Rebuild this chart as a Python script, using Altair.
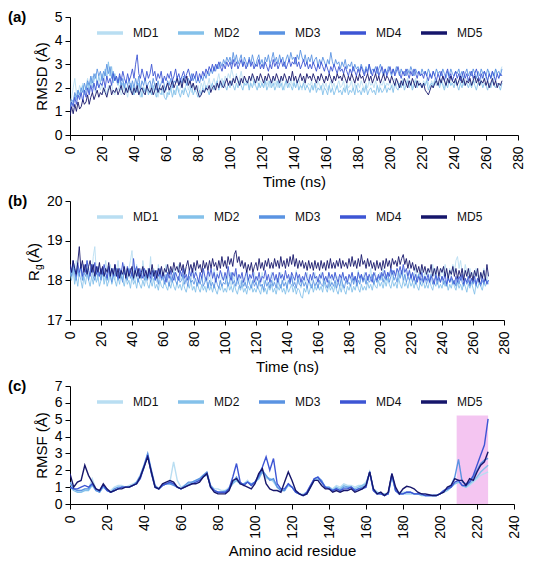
import altair as alt
import pandas as pd

SERIES = ["MD1", "MD2", "MD3", "MD4", "MD5"]
COLORS = ["#b9def2", "#84c1ea", "#5a93e2", "#3d55d4", "#16166b"]
FONT = "Liberation Sans"

TIME = list(range(0, 271))          # ns, one frame per ns
RESIDUE = list(range(0, 227, 2))    # residue index, every 2nd residue
TIME_TICKS = list(range(0, 281, 20))
RES_TICKS = list(range(0, 241, 20))

# ---------------- RMSD (Å), t = 0..270 ns ----------------
rmsd_md1 = [1.3, 1.6, 2.0, 2.4, 1.8, 1.7, 2.1, 1.9, 2.2, 1.8,
            2.1, 2.4, 1.9, 2.2, 2.5, 2.0, 1.8, 2.3, 2.1, 1.9,
            2.2, 1.8, 2.0, 1.7, 2.1, 1.9, 2.2, 1.8, 1.7, 2.0,
            1.9, 2.1, 1.7, 1.8, 2.2, 1.9, 1.6, 2.0, 1.8, 2.1,
            1.7, 2.0, 2.2, 1.8, 1.6, 1.9, 2.1, 1.7, 2.0, 1.8,
            2.1, 1.7, 1.9, 2.2, 1.8, 1.6, 2.0, 1.9, 1.7, 2.1,
            1.8, 1.6, 2.0, 1.9, 2.2, 1.7, 1.9, 2.1, 1.8, 2.0,
            2.2, 1.8, 2.0, 2.3, 1.9, 2.1, 1.8, 2.2, 2.0, 1.9,
            2.1, 1.8, 2.2, 2.0, 2.3, 1.9, 2.1, 2.4, 2.0, 2.2,
            2.4, 2.1, 2.3, 2.6, 2.2, 2.4, 2.1, 2.5, 2.3, 2.6,
            2.4, 2.8, 2.5, 2.3, 2.6, 2.2, 2.4, 2.7, 2.3, 2.1,
            2.4, 2.2, 2.0, 2.3, 2.5, 2.1, 2.2, 2.4, 2.0, 2.3,
            2.2, 2.0, 2.4, 2.1, 2.3, 2.0, 2.2, 2.4, 2.1, 2.3,
            2.0, 2.2, 2.4, 2.1, 1.9, 2.3, 2.2, 2.0, 2.4, 2.1,
            2.3, 2.0, 2.2, 2.4, 2.1, 1.9, 2.3, 2.2, 2.0, 2.2,
            2.1, 2.3, 1.9, 2.2, 2.0, 2.3, 2.1, 1.9, 2.2, 2.0,
            2.2, 1.9, 2.1, 2.3, 2.0, 2.2, 1.9, 2.1, 2.3, 2.0,
            2.1, 2.3, 1.9, 2.2, 2.0, 2.1, 2.3, 1.9, 2.2, 2.0,
            2.2, 2.0, 2.3, 2.1, 1.9, 2.2, 2.0, 2.3, 2.1, 2.2,
            2.0, 2.3, 2.1, 1.9, 2.2, 2.1, 2.3, 2.0, 2.2, 2.1,
            2.3, 2.0, 2.2, 2.4, 2.1, 2.3, 2.0, 2.2, 2.4, 2.1,
            2.2, 2.4, 2.1, 2.3, 2.0, 2.2, 2.4, 2.1, 2.3, 2.2,
            2.0, 2.3, 2.1, 2.4, 2.2, 2.0, 2.3, 2.1, 2.4, 2.2,
            2.3, 2.1, 2.4, 2.2, 2.0, 2.3, 2.2, 2.4, 2.1, 2.3,
            2.2, 2.4, 2.1, 2.3, 2.2, 2.5, 2.1, 2.3, 2.4, 2.2,
            2.3, 2.1, 2.4, 2.2, 2.5, 2.3, 2.1, 2.4, 2.6, 2.3,
            2.5, 2.2, 2.7, 2.4, 2.6, 2.3, 2.8, 2.5, 2.4, 2.7,
            2.9]
rmsd_md2 = [1.1, 1.4, 1.3, 1.7, 1.5, 1.9, 1.6, 1.8, 2.1, 1.7,
            1.9, 2.2, 1.8, 2.4, 2.0, 2.3, 2.6, 2.1, 2.5, 2.2,
            2.6, 2.3, 2.8, 2.4, 3.1, 2.5, 2.9, 2.2, 2.6, 2.3,
            2.1, 2.4, 1.9, 2.2, 2.0, 1.8, 2.1, 1.9, 2.2, 1.8,
            1.7, 2.0, 1.8, 2.2, 1.9, 1.6, 2.0, 1.8, 2.1, 1.7,
            1.9, 1.7, 2.1, 1.8, 1.6, 2.0, 1.8, 1.7, 2.0, 1.6,
            1.5, 1.8, 1.7, 2.0, 1.6, 1.9, 1.7, 2.1, 1.8, 1.6,
            1.9, 1.7, 2.0, 1.8, 1.6, 1.9, 2.1, 1.7, 1.9, 1.8,
            1.6, 1.9, 1.7, 2.0, 1.8, 2.1, 1.9, 1.7, 2.0, 2.2,
            1.9, 2.1, 2.3, 1.9, 2.2, 2.0, 2.3, 2.1, 1.9, 2.2,
            2.0, 2.3, 2.1, 1.9, 2.2, 2.0, 2.3, 2.1, 1.9, 2.2,
            2.1, 2.3, 1.9, 2.2, 2.0, 2.3, 2.1, 1.9, 2.2, 2.0,
            2.2, 2.0, 2.3, 1.9, 2.1, 2.3, 2.0, 2.2, 1.9, 2.1,
            2.3, 2.0, 2.2, 1.9, 2.1, 2.3, 2.0, 2.2, 2.1, 1.9,
            2.2, 2.0, 2.3, 1.9, 2.1, 2.0, 2.2, 1.9, 2.1, 2.0,
            1.8, 2.1, 1.9, 2.2, 1.8, 2.0, 1.9, 2.1, 1.7, 2.0,
            1.9, 1.7, 2.1, 1.8, 2.0, 1.7, 1.9, 2.1, 1.8, 1.9,
            1.7, 2.0, 1.8, 2.1, 1.7, 1.9, 1.8, 2.0, 1.7, 2.1,
            1.8, 1.9, 1.7, 2.0, 1.8, 2.1, 1.7, 1.9, 2.0, 1.8,
            1.9, 1.7, 2.1, 1.8, 2.0, 1.8, 1.9, 2.1, 1.8, 2.0,
            1.9, 2.1, 1.8, 2.2, 2.0, 1.9, 2.2, 2.0, 2.3, 1.9,
            2.1, 2.3, 2.0, 2.2, 1.9, 2.1, 2.3, 2.0, 2.2, 2.1,
            2.0, 2.2, 2.1, 2.3, 1.9, 2.1, 2.2, 2.0, 2.3, 2.1,
            2.2, 2.0, 2.3, 2.1, 1.9, 2.2, 2.0, 2.3, 2.1, 2.2,
            2.0, 2.3, 2.1, 1.9, 2.2, 2.0, 2.3, 2.1, 2.2, 2.0,
            2.2, 2.0, 2.3, 2.1, 1.9, 2.2, 2.1, 2.3, 2.0, 2.2,
            2.1, 1.9, 2.2, 2.0, 2.3, 2.1, 2.0, 2.2, 2.1, 1.9,
            2.2]
rmsd_md3 = [1.2, 1.5, 1.4, 1.8, 1.6, 1.9, 1.7, 2.0, 1.8, 2.2,
            1.9, 2.3, 2.1, 2.5, 2.2, 2.6, 2.4, 2.8, 2.5, 2.7,
            2.3, 2.7, 2.5, 3.0, 2.6, 2.9, 2.4, 2.7, 2.3, 2.5,
            2.2, 2.5, 2.1, 2.4, 2.0, 2.3, 2.1, 2.4, 1.9, 2.3,
            2.0, 2.4, 2.1, 2.5, 1.9, 2.3, 2.1, 2.4, 2.0, 2.2,
            2.3, 2.0, 2.4, 2.1, 1.9, 2.3, 2.0, 2.2, 2.4, 2.1,
            1.9, 2.3, 2.1, 2.4, 2.0, 2.3, 2.2, 2.5, 2.1, 2.4,
            2.2, 2.5, 2.3, 2.1, 2.4, 2.2, 2.6, 2.3, 2.5, 2.2,
            2.4, 2.2, 2.5, 2.3, 2.6, 2.4, 2.7, 2.5, 2.8, 2.6,
            2.9, 2.7, 3.0, 2.8, 3.1, 2.9, 3.2, 3.0, 3.3, 3.1,
            3.3, 3.0, 3.5, 3.1, 3.4, 3.0, 3.2, 3.4, 2.9, 3.3,
            3.1, 2.9, 3.3, 3.0, 3.4, 3.1, 2.9, 3.2, 3.4, 3.0,
            3.2, 2.9, 3.3, 3.1, 3.4, 3.0, 3.2, 3.5, 3.1, 3.3,
            3.0, 3.4, 3.1, 3.3, 2.9, 3.2, 3.4, 3.1, 3.5, 3.2,
            3.3, 3.0, 3.4, 3.2, 3.6, 3.3, 3.1, 3.4, 3.0, 3.3,
            3.1, 3.4, 3.0, 3.2, 3.3, 2.9, 3.2, 3.0, 3.3, 3.1,
            2.9, 3.2, 3.0, 3.5, 3.1, 2.9, 3.2, 3.0, 3.1, 2.8,
            3.1, 2.9, 3.2, 2.8, 3.0, 2.9, 3.1, 2.7, 3.0, 2.8,
            2.9, 2.7, 3.0, 2.8, 2.6, 2.9, 2.7, 3.0, 2.6, 2.8,
            2.7, 2.9, 2.6, 2.8, 3.0, 2.7, 2.5, 2.8, 2.6, 2.9,
            2.7, 2.5, 2.8, 2.6, 2.9, 2.7, 2.5, 2.8, 2.6, 2.7,
            2.5, 2.8, 2.6, 2.9, 2.7, 2.5, 2.8, 2.6, 2.7, 2.5,
            2.8, 2.6, 2.7, 2.5, 2.8, 2.6, 2.4, 2.7, 2.5, 2.8,
            2.6, 2.7, 2.5, 2.8, 2.6, 2.4, 2.7, 2.5, 2.8, 2.6,
            2.5, 2.7, 2.6, 2.8, 2.5, 2.7, 2.4, 2.6, 2.8, 2.5,
            2.7, 2.5, 2.8, 2.6, 2.4, 2.7, 2.5, 2.8, 2.6, 2.7,
            2.5, 2.8, 2.6, 2.4, 2.7, 2.5, 2.8, 2.6, 2.7, 2.5,
            2.8]
rmsd_md4 = [1.0, 1.4, 1.2, 1.6, 1.3, 1.7, 1.5, 1.8, 1.4, 1.9,
            1.6, 2.0, 1.7, 2.1, 1.8, 2.2, 1.9, 2.3, 2.0, 2.2,
            2.1, 2.4, 2.0, 2.5, 2.2, 2.4, 2.1, 2.6, 2.3, 2.5,
            2.2, 2.6, 2.3, 2.7, 2.4, 2.2, 2.6, 2.3, 2.5, 2.8,
            2.4, 3.0, 3.4, 2.6, 2.4, 2.8, 2.5, 2.3, 2.7, 2.4,
            2.6, 3.0, 2.5, 2.7, 2.3, 2.6, 2.4, 2.7, 2.2, 2.5,
            2.3, 2.6, 2.4, 2.7, 2.3, 2.5, 2.8, 2.4, 2.6, 2.3,
            2.5, 2.7, 2.4, 2.6, 2.8, 2.5, 2.3, 2.6, 2.4, 2.7,
            2.3, 2.6, 2.4, 2.7, 2.5, 2.8, 2.6, 2.9, 2.7, 3.0,
            2.7, 3.0, 2.8, 3.1, 2.9, 2.7, 3.0, 2.8, 3.1, 2.9,
            3.1, 2.8, 3.2, 2.9, 3.1, 2.8, 3.0, 3.2, 2.9, 3.1,
            2.8, 3.0, 3.2, 2.9, 3.1, 2.8, 3.0, 2.9, 3.2, 2.8,
            3.0, 2.8, 3.1, 2.9, 2.7, 3.0, 2.8, 3.2, 2.9, 3.1,
            2.8, 3.0, 3.2, 2.9, 3.1, 2.8, 3.0, 3.2, 2.9, 3.1,
            3.0, 3.3, 2.9, 3.1, 2.8, 3.0, 3.2, 2.9, 3.1, 2.8,
            3.0, 2.8, 3.1, 2.9, 2.7, 3.0, 2.8, 3.1, 2.9, 2.7,
            3.0, 2.8, 2.6, 2.9, 2.7, 3.0, 2.8, 2.6, 2.9, 2.7,
            2.8, 2.6, 2.9, 2.7, 2.5, 2.8, 2.6, 2.9, 2.7, 2.5,
            2.8, 2.6, 2.9, 2.7, 2.5, 2.8, 2.6, 3.0, 2.7, 2.5,
            2.8, 2.6, 2.9, 2.5, 2.7, 2.9, 2.6, 2.8, 2.5, 2.7,
            2.9, 2.6, 2.8, 2.5, 2.7, 2.9, 2.6, 2.4, 2.7, 2.5,
            2.8, 2.6, 2.4, 2.7, 2.5, 2.8, 2.6, 2.4, 2.7, 2.5,
            2.6, 2.4, 2.7, 2.5, 2.3, 2.6, 2.4, 2.7, 2.5, 2.3,
            2.6, 2.4, 2.7, 2.5, 2.3, 2.6, 2.8, 2.4, 2.6, 2.3,
            2.5, 2.7, 2.4, 2.6, 2.3, 2.5, 2.7, 2.4, 2.6, 2.3,
            2.5, 2.7, 2.4, 2.6, 2.8, 2.5, 2.3, 2.6, 2.4, 2.7,
            2.5, 2.3, 2.6, 2.4, 2.7, 2.5, 2.3, 2.6, 2.4, 2.6,
            2.5]
rmsd_md5 = [0.8, 1.2, 0.9, 1.3, 1.0, 1.4, 1.1, 1.2, 1.5, 1.3,
            1.4, 1.7, 1.3, 1.6, 1.8, 1.5, 1.7, 1.9, 1.6, 1.8,
            1.7, 2.0, 1.8, 1.6, 1.9, 2.1, 1.7, 1.9, 1.8, 2.0,
            1.7, 1.9, 2.1, 1.8, 1.7, 2.0, 1.8, 2.1, 1.9, 1.7,
            2.0, 1.8, 2.1, 1.7, 1.9, 2.0, 1.8, 1.7, 2.1, 1.9,
            1.8, 2.0, 1.7, 1.9, 2.2, 1.8, 2.0, 1.9, 2.1, 1.8,
            2.0, 2.2, 1.9, 2.1, 2.3, 2.0, 2.2, 2.4, 2.1, 2.3,
            2.0, 2.4, 2.2, 2.5, 2.1, 2.3, 2.0, 2.2, 1.9, 2.1,
            1.8, 1.6, 1.7, 1.9, 1.8, 2.0, 1.9, 2.1, 1.8, 2.0,
            2.1, 1.9, 2.2, 2.0, 2.3, 2.1, 2.0, 2.2, 2.4, 2.1,
            2.3, 2.1, 2.4, 2.2, 2.5, 2.3, 2.1, 2.4, 2.2, 2.5,
            2.3, 2.2, 2.5, 2.3, 2.6, 2.4, 2.2, 2.5, 2.3, 2.6,
            2.4, 2.2, 2.5, 2.3, 2.6, 2.4, 2.2, 2.5, 2.3, 2.6,
            2.4, 2.2, 2.5, 2.3, 2.6, 2.4, 2.2, 2.5, 2.3, 2.7,
            2.3, 2.5, 2.2, 2.4, 2.6, 2.3, 2.5, 2.2, 2.6, 2.4,
            2.5, 2.3, 2.6, 2.4, 2.2, 2.5, 2.3, 2.6, 2.4, 2.2,
            2.5, 2.3, 2.6, 2.4, 2.2, 2.5, 2.3, 2.6, 2.4, 2.5,
            2.3, 2.6, 2.4, 2.2, 2.5, 2.3, 2.6, 2.4, 2.2, 2.5,
            2.3, 2.6, 2.4, 2.5, 2.2, 2.4, 2.6, 2.3, 2.5, 2.2,
            2.4, 2.6, 2.3, 2.5, 2.2, 2.4, 2.6, 2.3, 2.5, 2.4,
            2.2, 2.5, 2.3, 2.1, 2.4, 2.2, 2.0, 2.3, 2.1, 2.4,
            2.2, 2.0, 2.3, 2.1, 2.4, 2.2, 2.0, 2.3, 2.1, 2.2,
            2.0, 2.2, 1.9, 1.8, 1.7, 1.9, 2.1, 2.0, 2.2, 2.3,
            2.1, 2.4, 2.2, 2.5, 2.3, 2.1, 2.4, 2.2, 2.5, 2.3,
            2.2, 2.4, 2.1, 2.3, 2.5, 2.2, 2.4, 2.1, 2.3, 2.2,
            2.4, 2.1, 2.3, 2.5, 2.2, 2.4, 2.1, 2.3, 2.2, 2.4,
            2.1, 2.3, 2.0, 2.2, 2.4, 2.1, 2.3, 2.0, 2.2, 2.1,
            2.3]

# ---------------- Rg (Å), t = 0..270 ns ----------------
rg_md1 = [18.3, 18.1, 18.4, 18.0, 18.5, 18.2, 18.1, 18.4, 18.0, 18.3,
          18.2, 18.5, 18.0, 18.3, 18.1, 18.6, 18.85, 18.2, 18.0, 18.4,
          18.1, 18.3, 18.0, 18.5, 18.2, 17.95, 18.4, 18.1, 18.3, 18.0,
          18.2, 18.5, 18.1, 18.3, 18.0, 18.4, 18.2, 18.0, 18.3, 18.5,
          18.75, 18.2, 18.0, 18.4, 18.1, 18.3, 18.0, 18.5, 18.2, 18.0,
          18.3, 18.1, 18.6, 18.0, 18.3, 18.2, 17.95, 18.4, 18.1, 18.3,
          18.0, 18.2, 18.4, 18.0, 18.3, 18.1, 17.95, 18.3, 18.0, 18.2,
          18.4, 18.0, 18.2, 17.95, 18.3, 18.1, 18.0, 18.3, 17.95, 18.2,
          18.0, 18.3, 18.1, 17.9, 18.2, 18.0, 18.3, 17.95, 18.1, 18.0,
          18.2, 17.9, 18.1, 18.3, 17.95, 18.2, 18.0, 17.9, 18.2, 18.0,
          18.1, 17.9, 18.2, 18.0, 17.85, 18.1, 18.0, 18.2, 17.9, 18.1,
          17.9, 18.1, 18.0, 17.85, 18.2, 17.95, 18.1, 17.9, 18.0, 18.2,
          17.9, 18.1, 17.85, 18.0, 18.2, 17.9, 18.0, 18.1, 17.85, 18.0,
          18.2, 17.9, 18.0, 18.1, 17.85, 18.0, 18.2, 17.9, 18.1, 18.0,
          17.85, 18.1, 18.0, 18.2, 17.9, 18.0, 18.25, 17.9, 18.1, 17.8,
          18.0, 18.1, 17.9, 18.2, 18.0, 17.85, 18.1, 18.0, 18.2, 17.9,
          18.1, 17.9, 18.2, 18.0, 17.9, 18.1, 18.0, 18.2, 17.85, 18.1,
          18.0, 18.2, 17.9, 18.1, 18.0, 17.85, 18.2, 18.0, 18.1, 17.9,
          18.1, 18.0, 18.2, 17.9, 18.1, 18.0, 18.25, 17.95, 18.1, 18.0,
          18.2, 17.95, 18.1, 18.0, 18.3, 18.0, 18.1, 18.2, 17.95, 18.1,
          18.2, 18.0, 18.3, 18.1, 18.0, 18.2, 18.1, 18.3, 18.0, 18.2,
          18.1, 18.3, 18.0, 18.2, 18.1, 18.3, 18.0, 18.2, 18.1, 18.3,
          18.0, 18.2, 18.1, 18.3, 18.0, 18.2, 18.1, 18.3, 18.0, 18.2,
          18.1, 18.3, 18.0, 18.2, 18.4, 18.1, 18.3, 18.0, 18.2, 18.1,
          18.3, 18.1, 18.4, 18.2, 18.0, 18.3, 18.1, 18.4, 18.2, 18.5,
          18.6, 18.3, 18.5, 18.2, 18.1, 18.4, 18.2, 18.0, 18.3, 18.1,
          18.2, 18.0, 18.3, 18.1, 17.95, 18.2, 18.0, 18.3, 18.1, 18.0,
          18.2]
rg_md2 = [18.2, 18.0, 18.3, 17.9, 18.1, 17.85, 18.2, 18.0, 17.8, 18.1,
          17.9, 18.2, 18.0, 17.85, 18.1, 17.9, 18.2, 17.95, 18.1, 17.85,
          18.0, 18.2, 17.9, 18.1, 17.85, 18.0, 18.2, 17.9, 18.1, 18.0,
          17.85, 18.1, 17.9, 18.2, 18.0, 17.85, 18.1, 17.9, 18.0, 17.8,
          18.1, 17.9, 18.0, 17.8, 18.05, 17.9, 17.8, 18.0, 17.85, 18.1,
          17.9, 17.8, 18.0, 17.85, 18.05, 17.8, 17.9, 17.75, 18.0, 17.85,
          17.8, 18.0, 17.85, 17.75, 17.95, 17.8, 18.0, 17.85, 17.75, 17.95,
          17.8, 17.9, 17.75, 17.95, 17.8, 17.7, 17.9, 17.8, 18.0, 17.75,
          17.85, 17.7, 17.95, 17.8, 17.7, 17.9, 17.75, 17.85, 17.7, 17.95,
          17.75, 17.85, 17.7, 17.9, 17.75, 17.65, 17.85, 17.75, 17.9, 17.7,
          17.8, 17.7, 17.95, 17.75, 17.85, 17.7, 17.9, 17.75, 17.65, 17.85,
          17.75, 17.9, 17.7, 17.8, 17.65, 17.85, 17.75, 17.9, 17.7, 17.8,
          17.7, 17.85, 17.75, 17.65, 17.9, 17.7, 17.8, 17.65, 17.85, 17.75,
          17.9, 17.7, 17.8, 17.65, 17.85, 17.75, 17.9, 17.7, 17.8, 17.65,
          17.85, 17.7, 17.8, 17.9, 17.7, 17.85, 17.65, 17.8, 17.75, 17.6,
          17.55, 17.8, 17.7, 17.85, 17.65, 17.8, 17.9, 17.7, 17.85, 17.75,
          17.9, 17.75, 17.85, 17.7, 17.95, 17.8, 17.7, 17.9, 17.75, 17.85,
          17.7, 17.9, 17.75, 17.65, 17.85, 17.7, 17.9, 17.75, 17.65, 17.85,
          17.75, 17.9, 17.7, 17.85, 17.75, 17.95, 17.8, 17.7, 17.9, 17.75,
          17.85, 17.75, 17.95, 17.8, 17.9, 17.75, 17.95, 17.85, 17.8, 18.0,
          17.85, 17.95, 17.8, 18.0, 17.85, 18.05, 17.9, 17.8, 18.0, 17.85,
          17.95, 17.8, 18.05, 17.9, 17.8, 18.0, 17.85, 17.95, 17.8, 18.0,
          17.85, 17.95, 17.8, 18.0, 17.85, 17.75, 17.95, 17.85, 18.0, 17.8,
          17.9, 17.8, 18.0, 17.85, 17.75, 17.95, 17.85, 18.0, 17.8, 17.9,
          17.8, 18.0, 17.85, 17.95, 17.75, 17.9, 17.8, 18.0, 17.85, 17.75,
          17.95, 17.8, 17.9, 17.75, 17.95, 17.85, 17.7, 17.9, 17.8, 17.95,
          17.8, 17.65, 17.9, 17.8, 17.95, 17.85, 17.75, 17.95, 17.85, 18.0,
          17.9]
rg_md3 = [18.3, 18.1, 18.4, 18.2, 18.0, 18.3, 18.1, 18.4, 18.0, 18.2,
          18.1, 18.3, 18.0, 18.2, 18.4, 18.1, 18.0, 18.3, 18.1, 18.2,
          18.0, 18.3, 18.1, 18.2, 18.0, 18.35, 18.1, 17.95, 18.2, 18.1,
          18.3, 18.0, 18.2, 18.1, 17.95, 18.25, 18.1, 18.0, 18.3, 18.05,
          18.2, 18.0, 18.3, 18.1, 17.95, 18.2, 18.05, 18.3, 18.0, 18.15,
          18.0, 18.2, 17.95, 18.1, 18.25, 18.0, 18.1, 17.9, 18.2, 18.0,
          18.1, 17.9, 18.15, 18.0, 17.85, 18.1, 17.95, 18.2, 18.0, 17.9,
          18.1, 17.95, 18.0, 18.15, 17.9, 18.05, 17.85, 18.1, 17.95, 18.0,
          17.9, 18.05, 17.85, 18.0, 17.9, 18.1, 17.85, 17.95, 18.05, 17.8,
          18.0, 17.85, 17.95, 17.8, 18.05, 17.9, 17.8, 18.0, 17.85, 17.95,
          17.9, 18.1, 17.85, 17.95, 18.2, 17.9, 18.0, 17.85, 18.05, 17.9,
          17.8, 18.0, 17.85, 17.95, 17.8, 18.05, 17.9, 17.8, 18.0, 17.85,
          17.95, 17.8, 18.0, 17.85, 17.9, 17.75, 18.0, 17.85, 17.95, 17.8,
          18.0, 17.85, 17.95, 17.8, 18.05, 17.9, 17.8, 18.0, 17.85, 17.95,
          17.8, 18.0, 17.9, 18.1, 17.85, 17.95, 17.8, 18.05, 17.9, 17.85,
          18.0, 17.85, 17.95, 17.8, 18.0, 17.9, 17.8, 18.0, 17.85, 17.95,
          17.8, 18.0, 17.9, 17.85, 18.05, 17.9, 17.8, 18.0, 17.85, 17.95,
          17.85, 18.0, 17.8, 17.95, 17.85, 18.05, 17.9, 17.8, 18.0, 17.9,
          17.95, 17.85, 18.05, 17.9, 18.1, 17.85, 18.0, 17.9, 18.15, 17.95,
          18.05, 17.9, 18.1, 17.95, 18.0, 18.15, 17.9, 18.05, 17.95, 18.1,
          18.0, 18.15, 17.95, 18.1, 18.0, 18.2, 17.95, 18.1, 18.25, 18.0,
          18.1, 17.95, 18.2, 18.05, 18.25, 18.0, 18.15, 17.95, 18.1, 18.0,
          18.15, 17.95, 18.1, 17.9, 18.05, 18.15, 17.9, 18.05, 17.95, 18.1,
          17.9, 18.05, 17.95, 18.15, 17.9, 18.0, 18.1, 17.9, 18.05, 17.95,
          18.1, 17.9, 18.0, 17.85, 18.1, 17.95, 18.05, 17.9, 18.0, 17.85,
          18.05, 17.9, 18.1, 17.95, 17.85, 18.05, 17.9, 18.0, 17.85, 18.05,
          17.9, 18.0, 17.85, 18.05, 17.95, 17.85, 18.0, 17.9, 18.05, 17.95,
          18.0]
rg_md4 = [18.4, 18.2, 18.5, 18.3, 18.1, 18.45, 18.2, 18.35, 18.1, 18.4,
          18.2, 18.5, 18.25, 18.1, 18.4, 18.2, 18.45, 18.15, 18.35, 18.1,
          18.3, 18.15, 18.4, 18.2, 18.05, 18.35, 18.15, 18.3, 18.1, 18.4,
          18.2, 18.05, 18.3, 18.15, 18.45, 18.2, 18.1, 18.35, 18.15, 18.3,
          18.1, 18.55, 18.2, 18.35, 18.1, 18.3, 18.15, 18.05, 18.3, 18.2,
          18.1, 18.3, 18.05, 18.25, 18.15, 18.0, 18.25, 18.1, 18.3, 18.05,
          18.2, 18.1, 17.95, 18.2, 18.05, 18.25, 18.1, 18.0, 18.2, 18.1,
          18.0, 18.25, 18.1, 18.3, 18.05, 18.15, 18.0, 18.25, 18.1, 18.3,
          18.05, 18.2, 18.1, 17.95, 18.2, 18.05, 18.3, 18.1, 18.0, 18.25,
          18.1, 18.3, 18.05, 18.2, 17.95, 18.15, 18.05, 18.25, 18.1, 18.0,
          18.2, 18.05, 18.35, 18.1, 18.0, 18.2, 18.1, 18.3, 18.0, 18.15,
          18.05, 18.2, 17.95, 18.1, 18.25, 18.0, 18.15, 18.05, 18.2, 17.95,
          18.1, 18.0, 18.2, 17.95, 18.1, 18.05, 18.25, 18.0, 18.15, 17.95,
          18.1, 18.2, 18.0, 18.15, 17.95, 18.2, 18.05, 18.15, 18.0, 18.25,
          18.05, 18.15, 17.95, 18.2, 18.1, 18.0, 18.2, 18.05, 18.15, 17.95,
          18.1, 18.0, 18.2, 18.05, 17.95, 18.15, 18.0, 18.2, 18.05, 18.1,
          17.95, 18.15, 18.05, 18.2, 18.0, 18.1, 17.95, 18.2, 18.05, 18.15,
          18.0, 18.2, 18.05, 17.95, 18.15, 18.05, 18.2, 18.0, 18.1, 17.95,
          18.15, 18.05, 18.2, 18.0, 18.1, 17.95, 18.2, 18.05, 18.15, 18.0,
          18.1, 18.2, 18.0, 18.15, 18.05, 17.95, 18.2, 18.1, 18.0, 18.15,
          18.05, 18.2, 18.1, 18.25, 18.05, 18.2, 18.1, 18.3, 18.15, 18.25,
          18.1, 18.3, 18.2, 18.35, 18.15, 18.4, 18.2, 18.3, 18.1, 18.25,
          18.05, 18.2, 18.0, 18.15, 17.95, 18.1, 18.0, 18.2, 17.95, 18.1,
          18.0, 18.15, 17.95, 18.1, 18.05, 17.9, 18.15, 18.0, 18.1, 17.95,
          18.1, 18.0, 18.15, 17.9, 18.05, 17.95, 18.1, 18.0, 17.9, 18.1,
          17.95, 18.1, 18.0, 18.15, 17.9, 18.05, 17.95, 18.1, 17.9, 18.05,
          17.95, 18.1, 17.9, 18.05, 18.0, 17.9, 18.1, 17.95, 18.05, 17.9,
          18.0]
rg_md5 = [18.4, 18.2, 18.5, 18.3, 18.15, 18.45, 18.85, 18.3, 18.5, 18.2,
          18.4, 18.15, 18.35, 18.5, 18.2, 18.4, 18.1, 18.35, 18.2, 18.45,
          18.15, 18.35, 18.1, 18.3, 18.2, 18.45, 18.1, 18.3, 18.15, 18.4,
          18.1, 18.3, 18.05, 18.25, 18.15, 18.35, 18.05, 18.3, 18.1, 18.2,
          18.35, 18.05, 18.25, 18.1, 18.3, 18.05, 18.2, 18.35, 18.1, 18.25,
          18.05, 18.3, 18.15, 18.4, 18.1, 18.25, 18.05, 18.3, 18.15, 18.35,
          18.1, 18.3, 18.2, 18.4, 18.15, 18.35, 18.2, 18.45, 18.25, 18.35,
          18.2, 18.45, 18.25, 18.4, 18.15, 18.35, 18.5, 18.25, 18.4, 18.2,
          18.45, 18.25, 18.5, 18.3, 18.4, 18.2, 18.5, 18.3, 18.45, 18.25,
          18.5, 18.3, 18.55, 18.35, 18.45, 18.25, 18.5, 18.3, 18.6, 18.35,
          18.5, 18.3, 18.6, 18.4, 18.55, 18.35, 18.65, 18.75, 18.45, 18.6,
          18.35, 18.5, 18.3, 18.45, 18.2, 18.4, 18.25, 18.45, 18.2, 18.35,
          18.45, 18.25, 18.55, 18.3, 18.45, 18.25, 18.5, 18.35, 18.55, 18.3,
          18.45, 18.3, 18.55, 18.35, 18.5, 18.3, 18.6, 18.35, 18.5, 18.3,
          18.55, 18.35, 18.6, 18.4, 18.65, 18.35, 18.55, 18.3, 18.5, 18.35,
          18.5, 18.3, 18.45, 18.25, 18.5, 18.3, 18.45, 18.25, 18.5, 18.3,
          18.45, 18.25, 18.5, 18.3, 18.45, 18.25, 18.5, 18.3, 18.55, 18.3,
          18.45, 18.3, 18.5, 18.35, 18.55, 18.3, 18.5, 18.35, 18.45, 18.3,
          18.55, 18.35, 18.6, 18.35, 18.5, 18.3, 18.55, 18.35, 18.65, 18.4,
          18.5, 18.3, 18.55, 18.35, 18.5, 18.3, 18.45, 18.25, 18.5, 18.3,
          18.45, 18.25, 18.5, 18.3, 18.55, 18.35, 18.5, 18.3, 18.55, 18.4,
          18.5, 18.35, 18.6, 18.4, 18.55, 18.65, 18.4, 18.55, 18.3, 18.5,
          18.3, 18.45, 18.25, 18.4, 18.2, 18.35, 18.15, 18.4, 18.2, 18.35,
          18.15, 18.3, 18.2, 18.4, 18.1, 18.3, 18.15, 18.35, 18.1, 18.3,
          18.2, 18.35, 18.1, 18.3, 18.05, 18.25, 18.15, 18.35, 18.1, 18.3,
          18.05, 18.25, 18.1, 18.3, 18.0, 18.25, 18.1, 18.3, 18.05, 18.2,
          18.0, 18.25, 18.1, 18.3, 17.95, 18.2, 18.05, 18.25, 18.0, 18.4,
          18.1]

# ---------------- RMSF (Å), residues 0..226 (every 2nd) ----------------
rmsf_md1 = [1.2, 0.9, 0.8, 0.8, 0.9, 0.9, 1.5, 0.9, 0.8, 1.1,
            0.8, 0.8, 1.0, 1.1, 1.1, 1.0, 1.1, 1.2, 1.3, 1.6,
            2.1, 3.0, 1.8, 1.0, 0.9, 1.1, 1.2, 1.3, 2.5, 1.4,
            1.0, 1.1, 1.2, 1.3, 1.3, 1.4, 1.6, 1.7, 1.1, 0.9,
            0.9, 0.8, 0.8, 1.0, 1.3, 1.4, 1.2, 1.2, 1.4, 1.1,
            1.3, 1.5, 1.9, 1.5, 1.5, 1.3, 1.0, 0.9, 0.9, 1.1,
            1.0, 0.8, 0.6, 0.6, 0.7, 1.1, 1.4, 1.5, 1.3, 1.0,
            1.0, 0.9, 1.1, 1.0, 1.2, 1.1, 1.1, 1.0, 1.1, 1.1,
            1.3, 1.8, 0.9, 0.7, 0.6, 0.6, 0.6, 1.6, 0.8, 0.7,
            0.7, 0.7, 0.7, 0.6, 0.6, 0.6, 0.5, 0.5, 0.5, 0.5,
            0.6, 0.7, 0.8, 1.0, 1.2, 1.3, 1.1, 1.0, 1.1, 1.3,
            1.5, 1.7, 1.8, 1.9]
rmsf_md2 = [1.0, 0.8, 0.7, 0.7, 0.8, 0.8, 1.1, 0.8, 0.7, 1.0,
            0.8, 0.7, 0.8, 0.9, 1.0, 1.0, 1.0, 1.1, 1.2, 1.6,
            2.2, 2.9, 1.9, 1.0, 0.9, 1.1, 1.2, 1.2, 1.2, 1.0,
            0.9, 1.0, 1.2, 1.3, 1.4, 1.5, 1.7, 1.8, 1.0, 0.8,
            0.7, 0.7, 0.8, 0.9, 1.2, 1.4, 1.2, 1.2, 1.3, 1.1,
            1.3, 1.5, 1.9, 1.6, 1.5, 1.4, 1.0, 0.8, 0.8, 1.1,
            1.0, 0.7, 0.6, 0.5, 0.6, 1.0, 1.4, 1.5, 1.3, 1.0,
            0.9, 0.8, 1.0, 0.9, 1.1, 1.0, 1.0, 0.9, 1.0, 1.1,
            1.2, 1.9, 0.9, 0.7, 0.6, 0.6, 0.6, 1.7, 0.8, 0.6,
            0.6, 0.6, 0.6, 0.6, 0.6, 0.5, 0.5, 0.5, 0.5, 0.5,
            0.6, 0.7, 0.8, 1.0, 1.2, 1.3, 1.1, 1.0, 1.2, 1.4,
            1.6, 1.9, 2.1, 2.3]
rmsf_md3 = [1.3, 0.9, 0.8, 0.8, 0.9, 0.9, 1.2, 0.8, 0.7, 1.1,
            0.8, 0.7, 0.9, 1.0, 1.0, 1.0, 1.0, 1.1, 1.3, 1.7,
            2.3, 3.0, 2.0, 1.1, 0.9, 1.1, 1.2, 1.2, 1.1, 1.0,
            0.9, 1.1, 1.3, 1.3, 1.4, 1.5, 1.7, 1.9, 1.1, 0.8,
            0.7, 0.7, 0.7, 0.9, 1.3, 1.6, 1.2, 1.2, 1.3, 1.2,
            1.3, 1.6, 2.0, 1.7, 1.4, 1.5, 1.0, 0.8, 0.8, 1.2,
            1.0, 0.7, 0.6, 0.5, 0.6, 1.0, 1.5, 1.6, 1.4, 1.0,
            1.0, 0.8, 0.9, 0.8, 1.0, 1.0, 1.0, 0.8, 0.9, 1.0,
            1.1, 1.9, 0.8, 0.6, 0.6, 0.5, 0.6, 1.7, 0.8, 0.6,
            0.6, 0.7, 0.7, 0.6, 0.6, 0.6, 0.5, 0.5, 0.5, 0.5,
            0.6, 0.8, 0.9, 1.1, 1.6, 2.65, 1.3, 1.2, 1.3, 1.6,
            2.0, 2.4, 2.6, 2.7]
rmsf_md4 = [1.0, 0.9, 0.9, 1.0, 1.1, 1.0, 1.2, 0.9, 0.8, 1.1,
            0.8, 0.7, 0.8, 0.9, 1.0, 1.0, 1.0, 1.1, 1.2, 1.5,
            2.2, 2.9, 1.8, 1.0, 0.9, 1.1, 1.2, 1.3, 1.2, 1.0,
            0.9, 1.0, 1.1, 1.2, 1.3, 1.4, 1.6, 1.8, 1.0, 0.8,
            0.7, 0.7, 0.7, 0.9, 1.6, 2.4, 1.3, 1.1, 1.3, 1.1,
            1.3, 1.7, 2.2, 2.8, 2.0, 2.7, 1.2, 0.9, 0.9, 1.2,
            1.0, 0.7, 0.6, 0.5, 0.7, 1.1, 1.5, 1.6, 1.3, 1.0,
            0.9, 0.8, 0.9, 0.8, 0.9, 0.9, 1.0, 0.8, 0.9, 0.9,
            1.0, 1.9, 0.8, 0.6, 0.6, 0.5, 0.6, 1.8, 0.8, 0.6,
            0.6, 0.7, 0.7, 0.6, 0.6, 0.6, 0.5, 0.5, 0.5, 0.5,
            0.6, 0.8, 0.9, 1.0, 1.3, 1.4, 1.1, 1.1, 1.3, 1.7,
            2.3, 2.9, 3.5, 5.05]
rmsf_md5 = [1.8, 1.0, 1.3, 1.4, 2.3, 1.7, 1.3, 0.9, 0.8, 1.2,
            0.9, 0.7, 0.8, 0.9, 0.9, 1.0, 1.0, 1.1, 1.2, 1.6,
            2.2, 2.8, 1.9, 1.0, 0.9, 1.2, 1.3, 1.4, 1.3, 1.0,
            0.9, 1.0, 1.1, 1.2, 1.2, 1.3, 1.6, 1.8, 1.0, 0.7,
            0.6, 0.6, 0.6, 0.8, 1.4, 1.5, 1.2, 1.1, 1.0, 0.9,
            1.2, 1.8, 2.1, 1.2, 0.9, 0.8, 0.8, 0.7, 1.3, 1.9,
            1.4, 0.8, 0.6, 0.5, 0.6, 1.0, 1.4, 1.4, 1.1, 0.9,
            0.9, 0.7, 0.8, 0.7, 0.8, 0.8, 0.9, 0.7, 0.8, 0.9,
            1.1, 1.9, 0.9, 0.6, 0.7, 0.5, 0.7, 1.8, 1.0, 0.6,
            0.9, 1.05, 1.0, 0.9, 0.7, 0.6, 0.6, 0.55, 0.5, 0.5,
            0.6, 0.7, 1.0, 1.1, 1.5, 1.4, 1.4, 1.1, 1.5, 1.4,
            1.9, 2.3, 2.5, 3.1]

# highlighted C-terminal region in panel (c)
HIGHLIGHT_START, HIGHLIGHT_END, HIGHLIGHT_TOP = 209, 226, 5.25


def long_df(xs, lists, xname, yname):
    rows = []
    for name, vals in zip(SERIES, lists):
        assert len(vals) == len(xs), (name, yname, len(vals), len(xs))
        for x, v in zip(xs, vals):
            rows.append({xname: x, yname: v, "run": name})
    return pd.DataFrame(rows)


rmsd_df = long_df(TIME, [rmsd_md1, rmsd_md2, rmsd_md3, rmsd_md4, rmsd_md5], "t_ns", "rmsd")
rg_df = long_df(TIME, [rg_md1, rg_md2, rg_md3, rg_md4, rg_md5], "t_ns", "rg")
rmsf_df = long_df(RESIDUE, [rmsf_md1, rmsf_md2, rmsf_md3, rmsf_md4, rmsf_md5], "residue", "rmsf")


def make_legend():
    return alt.Legend(orient="none", legendX=25, legendY=1, direction="horizontal",
                      columns=5, title=None, symbolType="stroke", symbolSize=676,
                      symbolStrokeWidth=3.5, labelFontSize=12, labelFont=FONT,
                      labelOffset=8, columnPadding=12, padding=0, labelColor="#111111")


def color_enc():
    return alt.Color("run:N", scale=alt.Scale(domain=SERIES, range=COLORS), legend=make_legend())


def x_axis(title, ticks):
    return alt.Axis(values=ticks, labelAngle=270, labelAlign="right", labelBaseline="middle",
                    labelOverlap=False, labelPadding=6, title=title)


def y_axis(title, vals):
    return alt.Axis(values=vals, labelOverlap=False, title=title)


def panel_label(text):
    # positioned in pixels relative to the plot's top-left corner
    return alt.Chart(pd.DataFrame({"lab": [text]})).mark_text(
        align="left", baseline="bottom", font=FONT, fontSize=15, fontWeight="bold", color="black"
    ).encode(x=alt.value(-62), y=alt.value(8), text="lab:N")


def base_rect(x0, x1, y0, y1, xscale, xaxis, yscale, yaxis, color, opacity):
    # first layer of every panel: a rectangle carrying the axis definitions
    return alt.Chart(pd.DataFrame({"x0": [x0], "x1": [x1], "y0": [y0], "y1": [y1]})).mark_rect(
        color=color, opacity=opacity
    ).encode(
        x=alt.X("x0:Q", scale=xscale, axis=xaxis), x2="x1:Q",
        y=alt.Y("y0:Q", scale=yscale, axis=yaxis), y2="y1:Q",
    )


# panel widths chosen so the 20-unit tick spacing is a whole number of pixels
A_W = 448   # 14 intervals x 32 px
B_W = 434   # 14 intervals x 31 px
C_W = 444   # 12 intervals x 37 px

# panel (a)
a_x = alt.Scale(domain=[0, 280], nice=False)
a_xaxis = x_axis("Time (ns)", TIME_TICKS)
a_y = alt.Scale(domain=[0, 5], nice=False)
a_yaxis = y_axis("RMSD (Å)", [0, 1, 2, 3, 4, 5])
a_lines = alt.Chart(rmsd_df).mark_line(strokeWidth=0.9, clip=True).encode(
    x=alt.X("t_ns:Q", scale=a_x, axis=a_xaxis),
    y=alt.Y("rmsd:Q", scale=a_y, axis=a_yaxis),
    color=color_enc(),
)
panel_a = alt.layer(base_rect(0, 0, 0, 0, a_x, a_xaxis, a_y, a_yaxis, "white", 0), a_lines,
                    panel_label("(a)")).properties(width=A_W, height=118)

# panel (b)
b_x = alt.Scale(domain=[0, 280], nice=False)
b_xaxis = x_axis("Time (ns)", TIME_TICKS)
b_y = alt.Scale(domain=[17, 20], nice=False, zero=False)
b_yaxis = y_axis(None, [17, 18, 19, 20])
b_lines = alt.Chart(rg_df).mark_line(strokeWidth=0.9, clip=True).encode(
    x=alt.X("t_ns:Q", scale=b_x, axis=b_xaxis),
    y=alt.Y("rg:Q", scale=b_y, axis=b_yaxis),
    color=color_enc(),
)
ytxt = dict(angle=270, align="left", baseline="middle", font=FONT, color="black")
rg_R = alt.Chart(pd.DataFrame({"t": ["R"]})).mark_text(fontSize=15, **ytxt).encode(
    x=alt.value(-36), y=alt.value(80), text="t:N")
rg_g = alt.Chart(pd.DataFrame({"t": ["g"]})).mark_text(fontSize=10, **ytxt).encode(
    x=alt.value(-31), y=alt.value(69), text="t:N")
rg_A = alt.Chart(pd.DataFrame({"t": ["(Å)"]})).mark_text(fontSize=15, **ytxt).encode(
    x=alt.value(-36), y=alt.value(62), text="t:N")
panel_b = alt.layer(base_rect(0, 0, 17, 17, b_x, b_xaxis, b_y, b_yaxis, "white", 0), b_lines,
                    rg_R, rg_g, rg_A, panel_label("(b)")).properties(width=B_W, height=119)

# panel (c)
c_x = alt.Scale(domain=[0, 240], nice=False)
c_y = alt.Scale(domain=[0, 7], nice=False)
c_xaxis = x_axis("Amino acid residue", RES_TICKS)
c_yaxis = y_axis("RMSF (Å)", list(range(0, 8)))
hl = base_rect(HIGHLIGHT_START, HIGHLIGHT_END, 0, HIGHLIGHT_TOP, c_x, c_xaxis, c_y, c_yaxis, "#f3bff0", 0.9)
c_lines = alt.Chart(rmsf_df).mark_line(strokeWidth=1.4, clip=True).encode(
    x=alt.X("residue:Q", scale=c_x, axis=c_xaxis),
    y=alt.Y("rmsf:Q", scale=c_y, axis=c_yaxis),
    color=color_enc(),
)
panel_c = alt.layer(hl, c_lines, panel_label("(c)")).properties(width=C_W, height=118)

chart = alt.vconcat(panel_a, panel_b, panel_c, spacing=4).resolve_scale(
    x="independent", y="independent", color="independent"
).resolve_legend(color="independent").properties(
    padding={"left": 0, "top": 2, "right": 5, "bottom": 2}, background="white"
).configure_view(stroke=None).configure_axis(
    grid=False, domainColor="black", tickColor="black", tickSize=5, domainWidth=1,
    labelFont=FONT, labelFontSize=14, labelColor="black", labelPadding=3,
    titleFont=FONT, titleFontSize=15, titleFontWeight="normal", titleColor="black", titlePadding=5
)

chart.save("out.html", embed_options={"renderer": "svg", "actions": False})
